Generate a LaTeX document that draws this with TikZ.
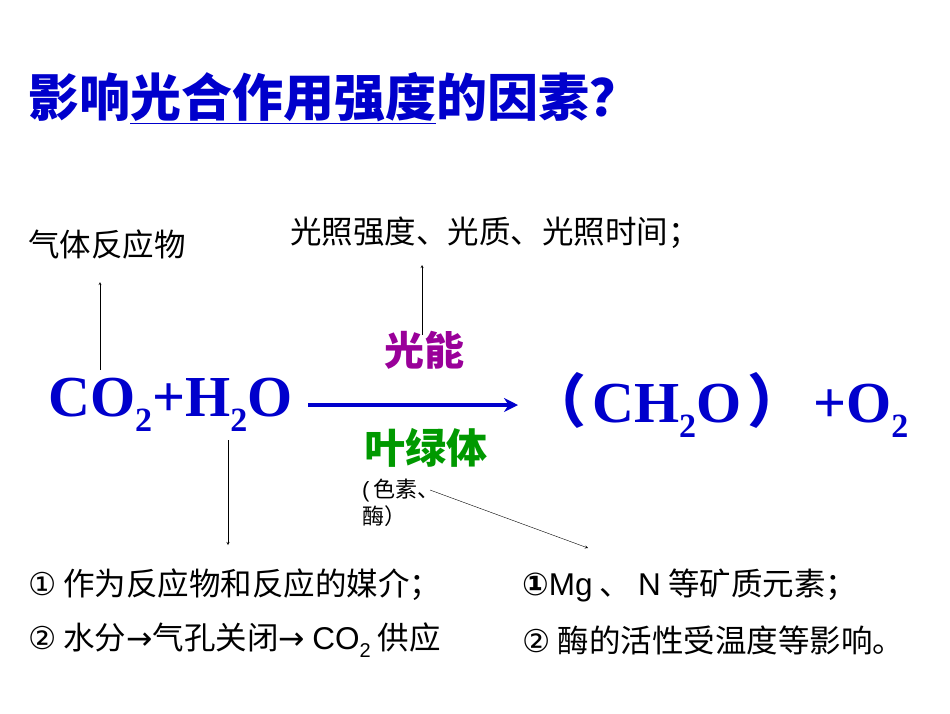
\documentclass[tikz,border=0pt]{standalone}
\usepackage{fontspec}
\usetikzlibrary{arrows.meta}
\setmainfont{Liberation Serif}
\newfontfamily\cjk{Noto Sans CJK SC}
\newfontfamily\lsans{Liberation Sans}
\newfontfamily\djv{DejaVu Sans}
\newcommand{\lowsub}[1]{\raisebox{-0.25em}{\fontsize{34}{36}\selectfont #1}}
\newcommand{\lowsubs}[1]{\raisebox{-0.25em}{\fontsize{20}{22}\selectfont #1}}
\definecolor{tblue}{RGB}{0,0,204}
\definecolor{tpurp}{RGB}{153,0,153}
\definecolor{tgreen}{RGB}{0,153,0}
\begin{document}
\begin{tikzpicture}[x=1pt,y=-1pt,
  lab/.style={font=\cjk\fontsize{31.5}{36}\selectfont,anchor=west,inner sep=0},
  chem/.style={font=\bfseries\fontsize{58}{62}\selectfont,text=tblue,inner sep=0},
  arr/.style={-stealth,thin}]
\useasboundingbox (0,0) rectangle (950,713);
\node[anchor=west,inner sep=0,text=tblue,font=\cjk\bfseries\fontsize{51}{56}\selectfont] (t) at (28,98) {影响\underline{光合作用强度}的因素？};
\node[lab] (g) at (28,245) {气体反应物};
\node[lab] (l) at (290,233) {光照强度、光质、光照时间；};
\node[chem,anchor=west] (c1) at (48,405) {CO\lowsub{2}+H\lowsub{2}O};
\node[chem,anchor=west] (c2) at (528,405) {{\cjk （}\hspace{6pt}CH\lowsub{2}O\hspace{6pt}{\cjk ）}\hspace{8pt}+O\lowsub{2}};
\node[inner sep=0,text=tpurp,font=\cjk\bfseries\fontsize{40}{44}\selectfont] (gn) at (424,350) {光能};
\node[inner sep=0,text=tgreen,font=\cjk\bfseries\fontsize{41}{44}\selectfont] (yl) at (426,448) {叶绿体};
\node[lab,font=\cjk\fontsize{22}{27}\selectfont,align=left] (se) at (362,503) {\lsans(\,\cjk 色素、\\酶）};
\coordinate (a0) at (308,405); \coordinate (a1) at (518,405);
\draw[tblue,line width=3.5pt,-{Stealth[length=14pt,width=14pt]}] (a0) -- (a1);
\coordinate (g0) at (100,370); \coordinate (g1) at (100,282);
\draw[arr] (g0) -- (g1);
\coordinate (l0) at (422,335); \coordinate (l1) at (422,265);
\draw[arr] (l0) -- (l1);
\coordinate (w0) at (228,440); \coordinate (w1) at (228,545);
\draw[arr] (w0) -- (w1);
\coordinate (s0) at (430,490); \coordinate (s1) at (588,548);
\draw[arr] (s0) -- (s1);
\node[lab] (r1) at (28,585) {{\djv ①} 作为反应物和反应的媒介；};
\node[lab] (r2) at (28,640) {{\djv ②} 水分{\djv →}气孔关闭{\djv →} {\lsans CO\lowsubs{2}} 供应};
\node[lab] (r3) at (522,585) {{\djv\bfseries ①}{\lsans Mg} 、 {\lsans N} 等矿质元素；};
\node[lab] (r4) at (522,640) {{\djv ②} 酶的活性受温度等影响。};
\end{tikzpicture}
\end{document}
